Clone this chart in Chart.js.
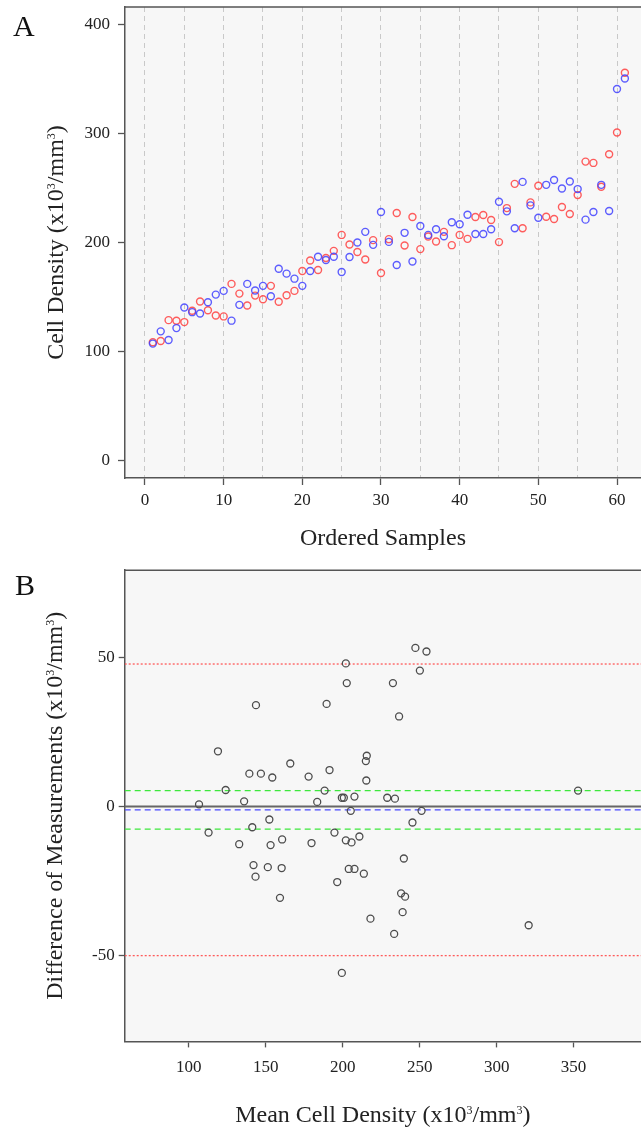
<!DOCTYPE html>
<html>
<head>
<meta charset="utf-8">
<title>Cell density</title>
<script src="https://cdn.jsdelivr.net/npm/chart.js@4.4.1/dist/chart.umd.min.js"></script>
<style>
  body { margin: 0; background: #fff; overflow: hidden; }
  .panel { position: absolute; left: 0; }
  .letter { position: absolute; font: 30px/30px "Liberation Serif", serif; color: #111; }
</style>
</head>
<body>
<canvas id="samples" class="panel" style="top:0" width="641" height="560"></canvas>
<canvas id="blandAltman" class="panel" style="top:560px" width="641" height="571"></canvas>
<div class="letter" style="left:13px;top:11px">A</div>
<div class="letter" style="left:15px;top:570px">B</div>
<script>
// panel A: ordered samples
const sampleTicks = [0, 10, 20, 30, 40, 50, 60];
const sampleGrid = [0, 5, 10, 15, 20, 25, 30, 35, 40, 45, 50, 55, 60];
const densityTicks = [0, 100, 200, 300, 400];

// blue markers
const firstMeasure = [
  107.3, 118.5, 110.6, 121.5, 140.4, 136.1, 134.9, 145.2, 152.2, 155.6,
  128.3, 142.8, 162.0, 155.9, 160.2, 150.7, 175.9, 171.4, 166.8, 160.2,
  173.8, 186.9, 183.9, 186.9, 172.9, 186.6, 199.9, 209.7, 197.8, 227.9,
  200.5, 179.3, 208.8, 182.6, 215.1, 206.9, 212.1, 205.7, 218.5, 216.7,
  225.4, 207.8, 207.8, 212.1, 237.3, 228.5, 213.0, 255.5, 234.0, 222.7,
  252.8, 257.3, 249.5, 255.9, 248.9, 220.9, 227.9, 252.8, 228.8, 340.7,
  350.3
];
// red markers
const secondMeasure = [
  108.5, 109.7, 128.8, 128.2, 127.0, 137.4, 145.9, 137.9, 133.1, 132.2,
  162.0, 153.1, 142.2, 151.3, 148.0, 160.2, 145.6, 151.6, 155.6, 173.8,
  183.5, 174.7, 185.7, 192.3, 206.9, 198.1, 191.2, 184.4, 202.1, 172.0,
  203.0, 227.0, 197.2, 223.3, 193.9, 205.4, 200.8, 209.7, 197.5, 206.9,
  203.3, 223.3, 225.2, 220.6, 200.3, 231.5, 253.7, 213.0, 236.7, 251.9,
  223.6, 221.5, 232.5, 226.1, 243.4, 274.1, 272.9, 251.0, 280.8, 300.8,
  355.5
];

// panel B: Bland-Altman
const meanTicks = [100, 150, 200, 250, 300, 350];
const diffTicks = [-50, 0, 50];
const meanDensity = [
  106.6, 112.8, 118.9, 123.9, 132.7, 135.9, 139.3, 141.2, 142.0, 143.3,
  143.6, 146.8, 151.3, 152.3, 153.1, 154.2, 159.2, 160.6, 160.3, 165.9,
  177.8, 179.7, 183.4, 188.2, 189.5, 191.4, 194.6, 196.4, 199.4, 199.4,
  200.7, 202.0, 202.6, 202.0, 203.9, 205.2, 205.7, 207.6, 207.6, 210.8,
  213.7, 215.3, 215.0, 215.6, 218.0, 228.9, 232.6, 233.4, 233.9, 236.6,
  237.9, 238.9, 239.7, 240.5, 245.3, 247.2, 250.1, 251.2, 254.4, 320.8,
  352.9
];
const diffDensity = [
  0.7, -8.8, 18.5, 5.5, -12.7, 1.7, 11.0, -7.0, -19.7, -23.6,
  34.0, 11.0, -20.4, -4.4, -13.0, 9.7, -30.7, -11.1, -20.7, 14.4,
  10.0, -12.3, 1.5, 5.3, 34.4, 12.2, -8.8, -25.4, -55.9, 2.9,
  2.9, 48.0, 41.4, -11.4, -21.0, -1.5, -12.1, 3.3, -21.0, -10.1,
  -22.6, 8.7, 15.2, 17.0, -37.7, 2.9, 41.4, -42.8, 2.6, 30.2,
  -29.2, -35.5, -17.5, -30.3, -5.4, 53.2, 45.6, -1.5, 52.0, -39.9,
  5.3
];
const meanDiff = -1.2;
const diffCI = [5.3, -7.6];
const agreeLimits = [47.8, -50.1];

Chart.defaults.font.family = '"Liberation Serif", "Times New Roman", serif';
Chart.defaults.font.size = 17;
Chart.defaults.color = '#222';

const titleFont = '24px "Liberation Serif", serif';
const supFont = '12px "Liberation Serif", serif';

// draws "abc^3def" with a small raised 3, centred on (x, y)
function drawRich(ctx, text, x, y, angle) {
  const parts = [];
  text.split('^').forEach((seg, i) => {
    if (i === 0) { parts.push([seg, false]); return; }
    parts.push([seg[0], true]);
    parts.push([seg.slice(1), false]);
  });
  let total = 0;
  ctx.save();
  parts.forEach(p => {
    ctx.font = p[1] ? supFont : titleFont;
    p.push(ctx.measureText(p[0]).width);
    total += p[2];
  });
  ctx.translate(x, y);
  ctx.rotate(angle);
  ctx.fillStyle = '#222';
  ctx.textAlign = 'left';
  ctx.textBaseline = 'alphabetic';
  let cx = -total / 2;
  parts.forEach(p => {
    ctx.font = p[1] ? supFont : titleFont;
    ctx.fillText(p[0], cx, p[1] ? -8 : 0);
    cx += p[2];
  });
  ctx.restore();
}

const frame = {
  id: 'frame',
  beforeDraw(chart) {
    const { ctx, chartArea: a } = chart;
    ctx.save();
    ctx.fillStyle = '#f7f7f7';
    ctx.fillRect(a.left, a.top, a.right - a.left, a.bottom - a.top);
    ctx.restore();
  },
  afterDraw(chart, args, opts) {
    const { ctx, chartArea: a } = chart;
    ctx.save();
    ctx.strokeStyle = '#555';
    ctx.lineWidth = 1.5;
    ctx.beginPath();
    ctx.moveTo(a.left, a.top);
    ctx.lineTo(a.right, a.top);
    ctx.stroke();
    ctx.restore();
    drawRich(ctx, opts.xTitle, (a.left + a.right) / 2, a.bottom + opts.xTitleGap, 0);
    drawRich(ctx, opts.yTitle, opts.yTitleX, (a.top + a.bottom) / 2, -Math.PI / 2);
  }
};

function fixWidth(w) {
  return axis => { axis.width = w; axis.paddingTop = 0; axis.paddingBottom = 0; };
}
function fixHeight(h) {
  return axis => { axis.height = h; axis.paddingLeft = 0; axis.paddingRight = 0; };
}
function useTicks(list) {
  return axis => { axis.ticks = list.map(v => ({ value: v })); };
}
function toPoints(xs, ys) {
  return ys.map((y, i) => ({ x: xs[i], y: y }));
}

const basePlugins = { legend: { display: false }, tooltip: { enabled: false } };
const common = {
  responsive: false,
  animation: false,
  devicePixelRatio: 1,
  elements: { point: { radius: 3.5, borderWidth: 1.4, backgroundColor: 'rgba(0,0,0,0)' } }
};

const sampleNo = firstMeasure.map((v, i) => i + 1);

new Chart(document.getElementById('samples'), {
  type: 'scatter',
  data: {
    datasets: [
      { data: toPoints(sampleNo, firstMeasure), borderColor: 'rgba(65,65,255,0.85)' },
      { data: toPoints(sampleNo, secondMeasure), borderColor: 'rgba(255,65,65,0.85)' }
    ]
  },
  options: Object.assign({}, common, {
    layout: { autoPadding: false, padding: { top: 7, right: 0, bottom: 0, left: 0 } },
    plugins: Object.assign({}, basePlugins, {
      frame: { xTitle: 'Ordered Samples', xTitleGap: 67,
        yTitle: 'Cell Density (x10^3/mm^3)', yTitleX: 63 }
    }),
    scales: {
      x: {
        type: 'linear', min: -2.54, max: 63.05,
        afterBuildTicks: useTicks(sampleGrid),
        afterFit: fixHeight(82),
        ticks: { padding: 5, maxRotation: 0, autoSkip: false,
          callback: v => sampleTicks.includes(v) ? String(v) : '' },
        grid: { color: '#c9c9c9', lineWidth: 1, tickLength: 7, tickWidth: 1.3,
          tickColor: c => sampleTicks.includes(c.tick.value) ? '#555' : 'rgba(0,0,0,0)' },
        border: { color: '#555', width: 1.5, dash: [5, 4] }
      },
      y: {
        type: 'linear', min: -15.9, max: 415.8,
        afterBuildTicks: useTicks(densityTicks),
        afterFit: fixWidth(125),
        ticks: { padding: 8, callback: v => String(v) },
        grid: { drawOnChartArea: false, tickLength: 7, tickWidth: 1.3, tickColor: '#555' },
        border: { color: '#555', width: 1.5 }
      }
    }
  }),
  plugins: [frame]
});

const meanMin = 58.3, meanMax = 393.8;
function hLine(v, color, dash, width) {
  return {
    type: 'line',
    data: [{ x: meanMin, y: v }, { x: meanMax, y: v }],
    borderColor: color, borderDash: dash, borderWidth: width,
    pointRadius: 0, fill: false
  };
}

new Chart(document.getElementById('blandAltman'), {
  type: 'scatter',
  data: {
    datasets: [
      { data: toPoints(meanDensity, diffDensity), borderColor: '#4d4d4d', borderWidth: 1.3 },
      hLine(meanDiff, '#4a4aff', [6, 4], 1.3),
      hLine(diffCI[0], '#3de83d', [6, 4], 1.3),
      hLine(diffCI[1], '#3de83d', [6, 4], 1.3),
      hLine(agreeLimits[0], '#ff5a5a', [2, 2], 1.3),
      hLine(agreeLimits[1], '#ff5a5a', [2, 2], 1.3),
      hLine(0, '#666', [], 2)
    ]
  },
  options: Object.assign({}, common, {
    layout: { autoPadding: false, padding: { top: 10.2, right: 0, bottom: 0, left: 0 } },
    plugins: Object.assign({}, basePlugins, {
      frame: { xTitle: 'Mean Cell Density (x10^3/mm^3)', xTitleGap: 81,
        yTitle: 'Difference of Measurements (x10^3/mm^3)', yTitleX: 62 }
    }),
    scales: {
      x: {
        type: 'linear', min: meanMin, max: meanMax,
        afterBuildTicks: useTicks(meanTicks),
        afterFit: fixHeight(89.6),
        ticks: { padding: 10.4, maxRotation: 0, autoSkip: false, callback: v => String(v) },
        grid: { drawOnChartArea: false, tickLength: 6, tickWidth: 1.3, tickColor: '#555' },
        border: { color: '#555', width: 1.5 }
      },
      y: {
        type: 'linear', min: -78.9, max: 79.3,
        afterBuildTicks: useTicks(diffTicks),
        afterFit: fixWidth(124.7),
        ticks: { padding: 4, callback: v => String(v) },
        grid: { drawOnChartArea: false, tickLength: 6, tickWidth: 1.3, tickColor: '#555' },
        border: { color: '#555', width: 1.5 }
      }
    }
  }),
  plugins: [frame]
});
</script>
</body>
</html>
